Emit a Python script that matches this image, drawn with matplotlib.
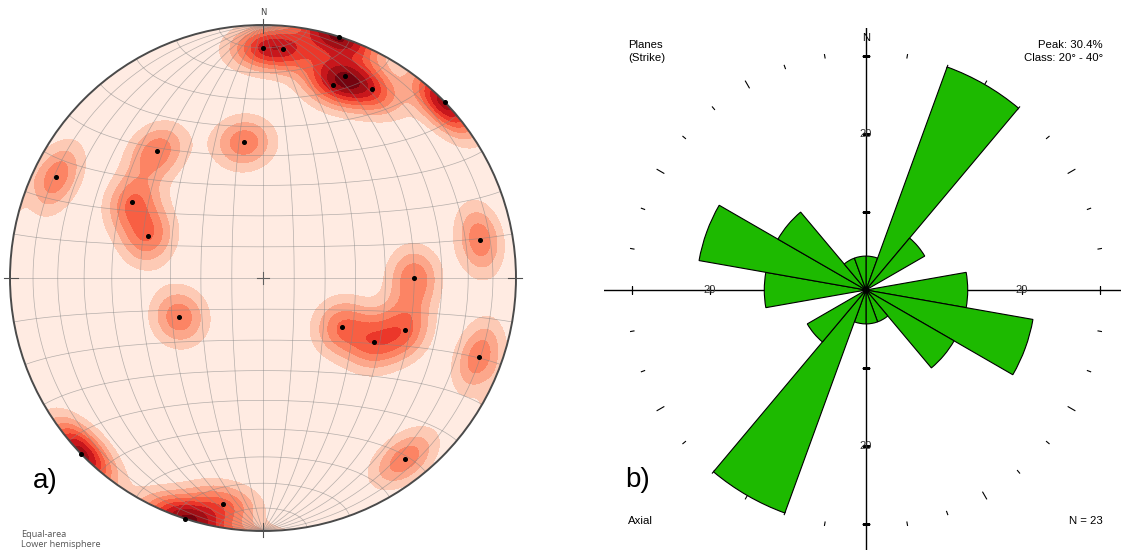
import numpy as np
import matplotlib
matplotlib.use('Agg')
import matplotlib.pyplot as plt
from matplotlib.patches import Circle

# poles to planes (trend, plunge in degrees)
pole_trend = [0, 5, 22, 20, 30, 17.5, 46, 352, 320, 296, 300, 290, 80, 90,
              245, 122, 110, 120, 110, 142, 190, 198, 226]
pole_plunge = [10, 10, 15, 20, 15, 0, 0, 45, 35, 10, 40, 50, 14, 40,
               60, 60, 40, 48, 10, 10, 10, 0, 0]

# rose diagram: strike counts per 20 deg class, 0-180 (axial -> mirrored)
rose_edges = [0, 20, 40, 60, 80, 100, 120, 140, 160, 180]
rose_counts = [1, 7, 2, 0, 3, 5, 3, 1, 1]
n_planes = 23
rose_ring_labels = [20]
rose_ticks = [10, 20, 30]

def project(x, y, z):
    # equal-area, lower hemisphere (z up, negative down)
    s = np.sqrt(1.0 - z)
    return x / s, y / s

def pole_vec(trend, plunge):
    t = np.radians(trend)
    p = np.radians(plunge)
    return np.cos(p) * np.sin(t), np.cos(p) * np.cos(t), -np.sin(p)

fig = plt.figure(figsize=(11.21, 5.5), dpi=100)

# ---------------- a) stereonet ----------------
ax1 = fig.add_axes([-0.01365, -0.01145, 0.4965, 1.012])
ax1.set_xlim(-1.1, 1.1)
ax1.set_ylim(-1.1, 1.1)
ax1.axis('off')

px, py, pz = pole_vec(np.array(pole_trend), np.array(pole_plunge))

g = np.linspace(-1.02, 1.02, 420)
X, Y = np.meshgrid(g, g)
r2 = np.clip(X**2 + Y**2, 0, 1)
f = np.sqrt(2 - r2)
gx, gy, gz = X * f, Y * f, r2 - 1
k = 85.0
D = np.zeros_like(X)
for a, b, c in zip(px, py, pz):
    cosang = np.abs(gx * a + gy * b + gz * c)
    D += np.exp(k * (cosang - 1))

step = 0.27
levels = [step * i for i in range(9)] + [1e3]
cols = plt.get_cmap('Reds')([0.06, 0.2, 0.31, 0.42, 0.53, 0.64, 0.76, 0.88, 0.97])
cs = ax1.contourf(X, Y, D, levels=levels, colors=cols, zorder=1)
circ = Circle((0, 0), 1, transform=ax1.transData)
cs.set_clip_path(circ)

# net grid: meridians through N-S and small circles about N-S axis
t = np.linspace(0, np.pi, 181)
for d in range(10, 100, 10):
    for sgn in ([1, -1] if d < 90 else [1]):
        dv = np.array([sgn * np.cos(np.radians(d)), 0, -np.sin(np.radians(d))])
        vx = np.sin(t) * dv[0]
        vy = np.cos(t)
        vz = np.sin(t) * dv[2]
        gxp, gyp = project(vx, vy, vz)
        ax1.plot(gxp, gyp, color='#858585', lw=0.5, alpha=0.6, zorder=2)
phi = np.linspace(np.pi, 2 * np.pi, 181)
for a in range(10, 180, 10):
    ar = np.radians(a)
    vx = np.sin(ar) * np.cos(phi)
    vy = np.full_like(phi, np.cos(ar))
    vz = np.sin(ar) * np.sin(phi)
    gxp, gyp = project(vx, vy, vz)
    ax1.plot(gxp, gyp, color='#858585', lw=0.5, alpha=0.6, zorder=2)

ax1.add_patch(Circle((0, 0), 1, fill=False, ec='#4a4a4a', lw=1.4, zorder=4))
for ang in [0, 90, 180, 270]:
    ar = np.radians(ang)
    ax1.plot([0.97 * np.sin(ar), 1.025 * np.sin(ar)],
             [0.97 * np.cos(ar), 1.025 * np.cos(ar)], color='#505050', lw=0.8, zorder=4)
ax1.plot([-0.025, 0.025], [0, 0], color='#606060', lw=0.8, zorder=4)
ax1.plot([0, 0], [-0.025, 0.025], color='#606060', lw=0.8, zorder=4)
ax1.text(0, 1.03, 'N', ha='center', va='bottom', fontsize=6, color='#404040')

sx, sy = project(px, py, pz)
ax1.plot(sx, sy, 'o', color='black', ms=2.6, zorder=5)

fig.text(0.019, 0.029, 'Equal-area', fontsize=6.6, color='#555555', va='center',
         family='Open Sans')
fig.text(0.019, 0.010, 'Lower hemisphere', fontsize=6.6, color='#555555', va='center',
         family='Open Sans')
fig.text(0.0294, 0.125, 'a)', fontsize=20, va='center', family='Liberation Sans')

# ---------------- b) rose diagram ----------------
ax2 = fig.add_axes([604 / 1121, -2 / 550, 524 / 1121, 524 / 550], projection='polar')
ax2.set_theta_zero_location('N')
ax2.set_theta_direction(-1)
rmax = 33.6
ax2.set_ylim(0, rmax)
ax2.axis('off')

pct = np.array(rose_counts) / n_planes * 100
lefts = np.array(rose_edges[:-1])
all_left = np.concatenate([lefts, lefts + 180])
all_pct = np.concatenate([pct, pct])
width = np.radians(20)
ax2.bar(np.radians(all_left + 10), all_pct, width=width, bottom=0,
        color='#1dba00', edgecolor='black', lw=0.8, zorder=3)

for ang in [0, 90, 180, 270]:
    ax2.plot([np.radians(ang)] * 2, [0, rmax], color='black', lw=1, zorder=2)
for r in rose_ticks:
    for ang in [0, 180]:
        ax2.plot(np.radians(ang), r, marker='_', ms=6, color='black', mew=0.9, zorder=2)
    for ang in [90, 270]:
        ax2.plot(np.radians(ang), r, marker='|', ms=6, color='black', mew=0.9, zorder=2)
for r in rose_ring_labels:
    for ang in [0, 90, 180, 270]:
        ax2.text(np.radians(ang), r, str(r), ha='center', va='center', fontsize=8,
                 color='#333333', family='Liberation Sans', zorder=4)

peak = pct.max()
for ang in range(0, 360, 10):
    if ang % 90 == 0:
        continue
    half = 0.5 if ang % 30 == 0 else 0.22
    ax2.plot([np.radians(ang)] * 2, [peak - half, peak + half], color='black',
             lw=0.8, zorder=2)
ax2.text(0, 32.3, 'N', ha='center', va='center', fontsize=8, family='Liberation Sans')

ip = int(np.argmax(pct))
fs = 8.2
fig.text(628 / 1121, 0.918, 'Planes', fontsize=fs, va='center', family='Liberation Sans')
fig.text(628 / 1121, 0.895, '(Strike)', fontsize=fs, va='center', family='Liberation Sans')
fig.text(1103 / 1121, 0.918, 'Peak: %.1f%%' % peak, fontsize=fs, va='center', ha='right',
         family='Liberation Sans')
fig.text(1103 / 1121, 0.895, 'Class: %d\u00b0 - %d\u00b0' % (rose_edges[ip], rose_edges[ip + 1]),
         fontsize=fs, va='center', ha='right', family='Liberation Sans')
fig.text(628 / 1121, 0.0527, 'Axial', fontsize=fs, va='center', family='Liberation Sans')
fig.text(1103 / 1121, 0.0527, 'N = %d' % n_planes, fontsize=fs, va='center', ha='right',
         family='Liberation Sans')
fig.text(625 / 1121, 0.127, 'b)', fontsize=20, va='center', family='Liberation Sans')

fig.savefig('out.png', dpi=100)
